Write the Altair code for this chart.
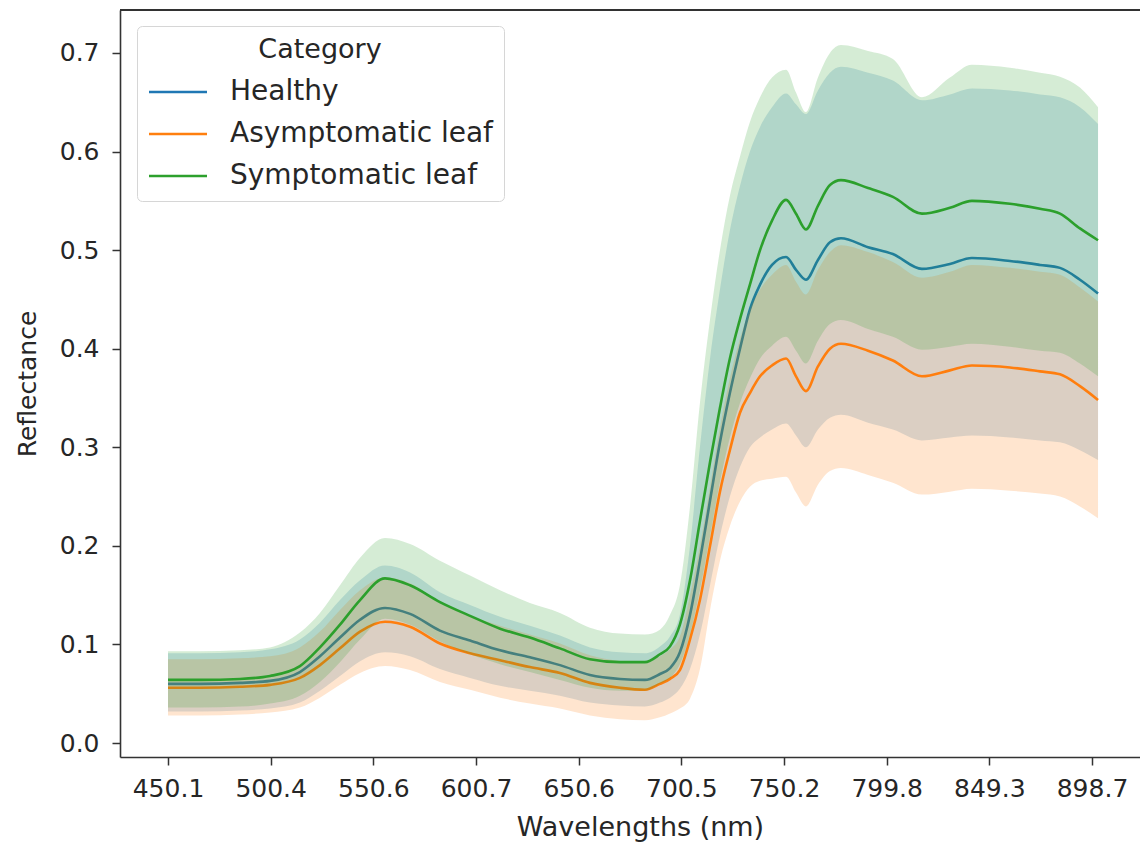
import altair as alt
import pandas as pd

# Band centres (nm) at which the mean spectra and their intervals were sampled
wavelengths = [450.1, 465.8, 485.4, 500.1, 514.7, 524.5, 534.3, 544.1, 556.3, 568.5,
               583.1, 597.8, 612.4, 626.9, 641.5, 656.1, 670.7, 682.8, 690.1, 695.0,
               699.8, 704.7, 709.5, 714.4, 719.2, 724.0, 728.9, 733.7, 738.6, 744.4,
               751.2, 756.0, 760.8, 766.6, 772.4, 777.7, 790.8, 802.8, 816.8, 830.3,
               840.9, 859.2, 873.7, 883.3, 892.9, 901.6]

healthy_mean = [0.060, 0.060, 0.061, 0.063, 0.072, 0.088, 0.107, 0.125, 0.137, 0.131,
                0.114, 0.104, 0.094, 0.087, 0.079, 0.069, 0.065, 0.064, 0.070, 0.076,
                0.092, 0.130, 0.185, 0.246, 0.305, 0.355, 0.400, 0.440, 0.465, 0.485,
                0.493, 0.480, 0.470, 0.490, 0.508, 0.512, 0.503, 0.496, 0.481, 0.486,
                0.492, 0.489, 0.485, 0.482, 0.470, 0.456]
healthy_lo = [0.032, 0.032, 0.033, 0.035, 0.041, 0.053, 0.068, 0.083, 0.092, 0.088,
              0.075, 0.066, 0.058, 0.053, 0.048, 0.041, 0.038, 0.037, 0.041, 0.046,
              0.055, 0.075, 0.110, 0.160, 0.210, 0.250, 0.280, 0.300, 0.310, 0.318,
              0.324, 0.312, 0.300, 0.318, 0.330, 0.333, 0.325, 0.318, 0.307, 0.310,
              0.312, 0.310, 0.307, 0.305, 0.297, 0.287]
healthy_hi = [0.091, 0.091, 0.092, 0.095, 0.105, 0.122, 0.145, 0.165, 0.180, 0.173,
              0.153, 0.140, 0.128, 0.119, 0.109, 0.097, 0.092, 0.091, 0.098, 0.108,
              0.130, 0.200, 0.300, 0.390, 0.460, 0.520, 0.565, 0.600, 0.625, 0.645,
              0.659, 0.648, 0.638, 0.662, 0.680, 0.686, 0.680, 0.672, 0.652, 0.658,
              0.664, 0.662, 0.658, 0.655, 0.645, 0.628]

asym_mean = [0.056, 0.056, 0.057, 0.059, 0.066, 0.079, 0.096, 0.113, 0.123, 0.118,
             0.101, 0.091, 0.084, 0.077, 0.071, 0.061, 0.056, 0.054, 0.060, 0.065,
             0.074, 0.105, 0.145, 0.200, 0.255, 0.297, 0.335, 0.355, 0.372, 0.383,
             0.390, 0.372, 0.357, 0.382, 0.400, 0.405, 0.398, 0.388, 0.372, 0.378,
             0.383, 0.381, 0.377, 0.374, 0.362, 0.348]
asym_lo = [0.028, 0.028, 0.029, 0.031, 0.036, 0.046, 0.059, 0.071, 0.078, 0.074,
           0.062, 0.054, 0.046, 0.040, 0.035, 0.028, 0.024, 0.023, 0.026, 0.030,
           0.035, 0.045, 0.075, 0.135, 0.185, 0.220, 0.245, 0.260, 0.266, 0.268,
           0.270, 0.254, 0.240, 0.262, 0.276, 0.279, 0.272, 0.264, 0.252, 0.255,
           0.258, 0.256, 0.253, 0.250, 0.240, 0.228]
asym_hi = [0.085, 0.085, 0.086, 0.088, 0.097, 0.113, 0.135, 0.155, 0.168, 0.162,
           0.142, 0.129, 0.119, 0.110, 0.101, 0.089, 0.083, 0.081, 0.088, 0.095,
           0.108, 0.150, 0.200, 0.260, 0.320, 0.370, 0.410, 0.440, 0.460, 0.475,
           0.485, 0.468, 0.455, 0.480, 0.498, 0.505, 0.498, 0.488, 0.472, 0.478,
           0.485, 0.482, 0.478, 0.475, 0.462, 0.448]

symp_mean = [0.064, 0.064, 0.065, 0.068, 0.078, 0.097, 0.120, 0.145, 0.167, 0.160,
             0.143, 0.129, 0.116, 0.107, 0.096, 0.085, 0.082, 0.082, 0.090, 0.098,
             0.120, 0.165, 0.225, 0.285, 0.340, 0.390, 0.430, 0.465, 0.500, 0.530,
             0.551, 0.537, 0.521, 0.545, 0.566, 0.571, 0.563, 0.554, 0.537, 0.543,
             0.550, 0.547, 0.542, 0.537, 0.522, 0.510]
symp_lo = [0.036, 0.036, 0.037, 0.040, 0.048, 0.062, 0.082, 0.105, 0.126, 0.120,
           0.103, 0.090, 0.080, 0.072, 0.064, 0.056, 0.053, 0.053, 0.060, 0.066,
           0.080, 0.110, 0.155, 0.210, 0.265, 0.310, 0.345, 0.370, 0.390, 0.403,
           0.412, 0.398, 0.385, 0.408, 0.425, 0.429, 0.420, 0.412, 0.399, 0.402,
           0.405, 0.402, 0.398, 0.396, 0.385, 0.372]
symp_hi = [0.093, 0.093, 0.094, 0.097, 0.112, 0.132, 0.160, 0.188, 0.208, 0.202,
           0.185, 0.170, 0.155, 0.142, 0.132, 0.117, 0.111, 0.110, 0.115, 0.130,
           0.160, 0.240, 0.345, 0.430, 0.500, 0.555, 0.595, 0.630, 0.655, 0.675,
           0.683, 0.660, 0.640, 0.675, 0.700, 0.708, 0.702, 0.694, 0.655, 0.675,
           0.688, 0.685, 0.680, 0.676, 0.665, 0.645]

categories = ["Healthy", "Asymptomatic leaf", "Symptomatic leaf"]
colors = ["#1f77b4", "#ff7f0e", "#2ca02c"]
tick_labels = [450.1, 500.4, 550.6, 600.7, 650.6, 700.5, 750.2, 799.8, 849.3, 898.7]
y_ticks = [0.0, 0.1, 0.2, 0.3, 0.4, 0.5, 0.6, 0.7]

series = {
    "Healthy": (healthy_mean, healthy_lo, healthy_hi),
    "Asymptomatic leaf": (asym_mean, asym_lo, asym_hi),
    "Symptomatic leaf": (symp_mean, symp_lo, symp_hi),
}

frames = {}
for name, (m, lo, hi) in series.items():
    frames[name] = pd.DataFrame({
        "wavelength": wavelengths,
        "reflectance": m,
        "lo": lo,
        "hi": hi,
        "category": name,
    })

W, H = 1020, 747
FONT = "DejaVu Sans"
INK = "#262626"
SPINE = "#333333"

# Band axis: the labelled bands sit at equal spacing, so the scale is piecewise linear
first_tick, last_tick = 48.0, 972.0
step = (last_tick - first_tick) / (len(tick_labels) - 1)
x_range = [0.0] + [first_tick + i * step for i in range(len(tick_labels))] + [float(W)]
x_domain = [426.6] + tick_labels + [921.8]

x_enc = alt.X("wavelength:Q",
              scale=alt.Scale(domain=x_domain, range=x_range, nice=False, zero=False),
              axis=alt.Axis(values=tick_labels, format=".1f", title="Wavelengths (nm)",
                            labelPadding=11, titlePadding=13, labelFlush=False,
                            titleX=520, titleFontSize=27))
y_scale = alt.Scale(domain=[-0.0142, 0.7436], nice=False, zero=False)
y_axis = alt.Axis(values=y_ticks, format=".1f", title="Reflectance",
                  labelPadding=13, titlePadding=19, titleFontSize=25)

# Legend keys: a horizontal stroke twice as wide as the symbol cell, so the
# rows can stay compact while the key lines stay long
color_scale = alt.Scale(domain=categories, range=colors)
legend = alt.Legend(title="Category", orient="none", legendX=17, legendY=16,
                    symbolType="M-2,0H2", symbolSize=841, symbolStrokeWidth=2.6,
                    symbolOffset=14, symbolFillColor="transparent",
                    labelFontSize=28, titleFontSize=27, titleFontWeight="normal",
                    titleAnchor="middle", labelFont=FONT, titleFont=FONT,
                    labelColor=INK, titleColor=INK, labelLimit=500,
                    fillColor="rgba(255,255,255,0.85)", strokeColor="#d6d6d6",
                    cornerRadius=5, padding=11, rowPadding=12, labelOffset=36,
                    titlePadding=12)

layers = []
for name, col in zip(categories, colors):
    base = alt.Chart(frames[name])
    line = base.mark_line(strokeWidth=2.6, interpolate="monotone").encode(
        x=x_enc,
        y=alt.Y("reflectance:Q", scale=y_scale, axis=y_axis),
        color=alt.Color("category:N", scale=color_scale, legend=legend),
    )
    band = base.mark_area(opacity=0.2, interpolate="monotone", color=col).encode(
        x=x_enc,
        y=alt.Y("lo:Q", scale=y_scale, axis=y_axis),
        y2="hi:Q",
    )
    layers += [line, band]

# top spine of the frame
top_spine = alt.Chart(frames["Healthy"]).mark_rule(color=SPINE, strokeWidth=1.6).encode(
    x=alt.value(0), x2=alt.value(W), y=alt.value(0)
)
layers.append(top_spine)

chart = alt.layer(*layers).properties(
    width=W, height=H,
    autosize="none",
    background="white",
    padding={"left": 120, "top": 10, "right": 0, "bottom": 91},
).configure_axis(
    grid=False,
    domainColor=SPINE, domainWidth=1.6,
    tickColor=SPINE, tickWidth=1.5, tickSize=8,
    labelFont=FONT, labelFontSize=25, labelColor=INK,
    titleFont=FONT, titleFontWeight="normal", titleColor=INK,
).configure_view(
    strokeWidth=0,
)

chart.save("out.html", embed_options={"renderer": "svg", "actions": False})
